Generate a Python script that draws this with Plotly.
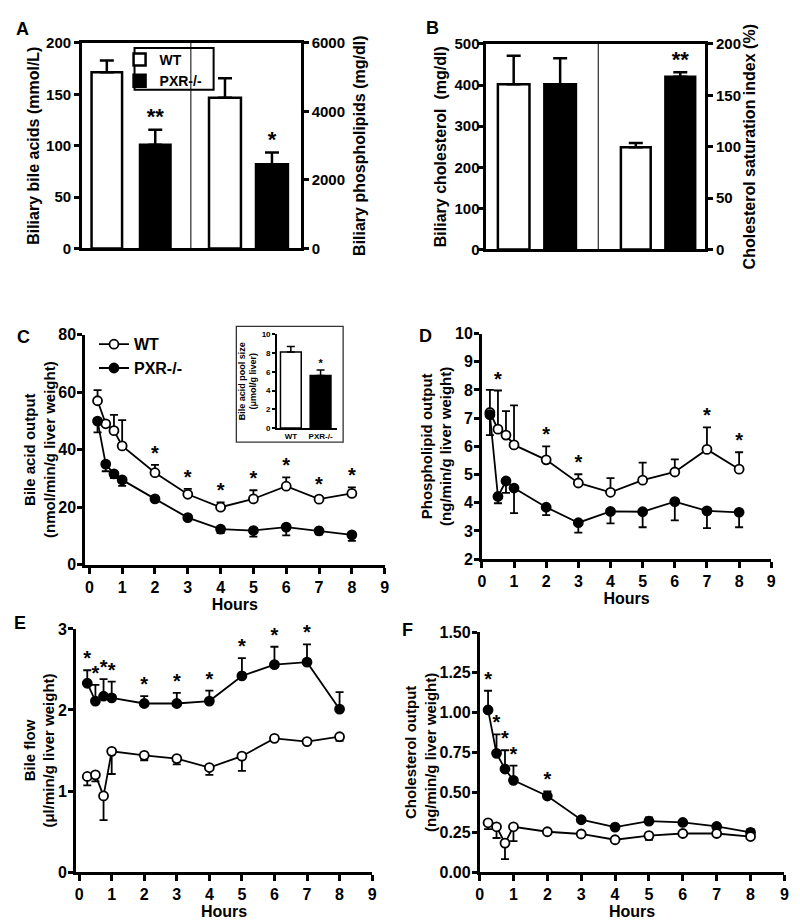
import plotly.graph_objects as go

W, H = 800, 924

# ---------------- Data ----------------
genotypes = ["WT", "PXR-/-"]

# Panel A
biliary_bile_acids = [171.5, 101.0]
biliary_bile_acids_sem = [11.5, 14.5]
sig_bile_acids = ["", "**"]
biliary_phospholipids = [4400, 2455]
biliary_phospholipids_sem = [570, 350]
sig_phospholipids = ["", "*"]

# Panel B
biliary_cholesterol = [402, 402]
biliary_cholesterol_sem = [69, 63]
sig_cholesterol = ["", ""]
chol_saturation_index = [99.5, 168]
chol_saturation_index_sem = [4.0, 4.5]
sig_csi = ["", "**"]

# Panel C inset
pool_size = [8.1, 5.6]
pool_size_sem = [0.6, 0.6]
sig_pool = ["", "*"]

hours = [0.25, 0.5, 0.75, 1, 2, 3, 4, 5, 6, 7, 8]

# Panel C - bile acid output
ba_wt = [57.0, 49.0, 46.6, 41.3, 32.0, 24.5, 20.0, 22.9, 27.3, 22.8, 24.8]
ba_wt_sem = [3.7, 1.0, 5.5, 9.0, 2.7, 1.9, 1.7, 3.0, 3.1, 1.0, 2.1]
ba_pxr = [49.9, 35.0, 31.6, 29.5, 22.9, 16.4, 12.4, 11.9, 13.1, 11.8, 10.4]
ba_pxr_sem = [3.9, 2.5, 1.5, 2.1, 1.0, 0.5, 1.4, 2.1, 2.9, 1.2, 2.1]
sig_C = ["", "", "", "", "*", "*", "*", "*", "*", "*", "*"]

# Panel D - phospholipid output
pl_wt = [7.20, 6.61, 6.40, 6.05, 5.52, 4.70, 4.37, 4.80, 5.09, 5.89, 5.19]
pl_wt_sem = [0.80, 1.37, 0.85, 1.40, 0.48, 0.31, 0.50, 0.62, 0.45, 0.78, 0.60]
pl_pxr = [7.12, 4.22, 4.77, 4.52, 3.84, 3.29, 3.69, 3.68, 4.04, 3.71, 3.66]
pl_pxr_sem = [0.72, 0.24, 0.42, 0.89, 0.28, 0.35, 0.42, 0.55, 0.67, 0.61, 0.53]
sig_D = ["", "*", "", "", "*", "*", "", "", "", "*", "*"]

# Panel E - bile flow
bf_wt = [1.18, 1.20, 0.94, 1.49, 1.44, 1.40, 1.29, 1.43, 1.65, 1.61, 1.67]
bf_wt_sem = [0.11, 0.08, 0.30, 0.28, 0.06, 0.07, 0.09, 0.18, 0.02, 0.02, 0.05]
bf_pxr = [2.33, 2.11, 2.17, 2.15, 2.08, 2.08, 2.11, 2.42, 2.56, 2.59, 2.01]
bf_pxr_sem = [0.16, 0.20, 0.21, 0.20, 0.09, 0.13, 0.13, 0.22, 0.22, 0.22, 0.21]
sig_E = ["*", "*", "*", "*", "*", "*", "*", "*", "*", "*", ""]

# Panel F - cholesterol output
ch_wt = [0.310, 0.285, 0.183, 0.285, 0.254, 0.240, 0.204, 0.230, 0.243, 0.243, 0.224]
ch_wt_sem = [0.040, 0.070, 0.100, 0.090, 0.005, 0.005, 0.010, 0.026, 0.005, 0.005, 0.005]
ch_pxr = [1.015, 0.744, 0.646, 0.575, 0.477, 0.329, 0.283, 0.320, 0.312, 0.287, 0.250]
ch_pxr_sem = [0.120, 0.118, 0.117, 0.092, 0.029, 0.005, 0.005, 0.023, 0.005, 0.005, 0.020]
sig_F = ["*", "*", "*", "*", "*", "", "", "", "", "", ""]

# ---------------- Helpers ----------------
FONT = "Liberation Sans, Arial, Helvetica, sans-serif"
# the photographed page shows the figure between y=8 and y=916
Y_OFF, Y_SPAN = 8.0, 908.0


def fnt(size, color="black"):
    return dict(family=FONT, size=size, color=color, weight="bold")


def px_x(p):
    return p / W


def px_y(p):
    return 1 - (p - Y_OFF) / Y_SPAN


def xdom(a, b):
    return [px_x(a), px_x(b)]


def ydom(bottom, top):
    return [px_y(bottom), px_y(top)]


def zeros(n):
    return [0] * n


def star_y(vals, errs, sig, up=True):
    return [(v + e if up else v) if s else None for v, e, s in zip(vals, errs, sig)]


fig = go.Figure()

# ---------------- Bar panels ----------------
WT_BAR = dict(color="white", line=dict(color="black", width=2.5))
PXR_BAR = dict(color="black", line=dict(color="black", width=2.5))
BAR_ERR = dict(color="black", thickness=2.5, width=7)


def add_bars(xa, ya, vals, errs, width, legend_on=False, small=False):
    err = dict(BAR_ERR)
    wt_m, pxr_m = WT_BAR, PXR_BAR
    if small:
        err.update(width=4, thickness=1.5)
        wt_m = dict(color="white", line=dict(color="black", width=1.5))
        pxr_m = dict(color="black", line=dict(color="black", width=1.5))
    for i, g in enumerate(genotypes):
        fig.add_trace(go.Bar(
            x=[g], y=[vals[i]], width=width,
            marker=wt_m if i == 0 else pxr_m,
            error_y=dict(type="data", symmetric=False, array=[errs[i]], arrayminus=[0], **err),
            name=g, legend="legend", showlegend=legend_on,
            xaxis=xa, yaxis=ya, hoverinfo="skip",
        ))


add_bars("x", "y", biliary_bile_acids, biliary_bile_acids_sem, 0.63, legend_on=True)
add_bars("x2", "y2", biliary_phospholipids, biliary_phospholipids_sem, 0.68)
add_bars("x3", "y3", biliary_cholesterol, biliary_cholesterol_sem, 0.68)
add_bars("x4", "y4", chol_saturation_index, chol_saturation_index_sem, 0.67)
add_bars("x6", "y6", pool_size, pool_size_sem, 0.7, small=True)

for xa, ya, vals, errs, sig, fs in [
    ("x", "y", biliary_bile_acids, biliary_bile_acids_sem, sig_bile_acids, 22),
    ("x2", "y2", biliary_phospholipids, biliary_phospholipids_sem, sig_phospholipids, 22),
    ("x3", "y3", biliary_cholesterol, biliary_cholesterol_sem, sig_cholesterol, 22),
    ("x4", "y4", chol_saturation_index, chol_saturation_index_sem, sig_csi, 22),
    ("x6", "y6", pool_size, pool_size_sem, sig_pool, 11),
]:
    fig.add_trace(go.Scatter(
        x=genotypes, y=star_y(vals, errs, sig), text=sig, mode="text",
        textposition="top center", textfont=fnt(fs), showlegend=False,
        xaxis=xa, yaxis=ya, cliponaxis=False, hoverinfo="skip",
    ))

# ---------------- Time-course panels ----------------
WT_MARK = dict(symbol="circle", size=9, color="white", line=dict(color="black", width=1.8))
PXR_MARK = dict(symbol="circle", size=9, color="black", line=dict(color="black", width=1.8))
LINE = dict(color="black", width=1.8)
ERR = dict(color="black", thickness=1.8, width=4)


def add_series(xa, ya, vals, errs, marker, up, name, legend_on=False):
    n = len(vals)
    fig.add_trace(go.Scatter(
        x=hours, y=vals, mode="lines+markers", marker=marker, line=LINE,
        error_y=dict(type="data", symmetric=False,
                     array=errs if up else zeros(n),
                     arrayminus=zeros(n) if up else errs, **ERR),
        name=name, legend="legend2", showlegend=legend_on,
        xaxis=xa, yaxis=ya, cliponaxis=False, hoverinfo="skip",
    ))


def add_stars(xa, ya, vals, errs, sig):
    fig.add_trace(go.Scatter(
        x=hours, y=star_y(vals, errs, sig), text=sig, mode="text",
        textposition="top center", textfont=fnt(20), showlegend=False,
        xaxis=xa, yaxis=ya, cliponaxis=False, hoverinfo="skip",
    ))


# C
add_series("x5", "y5", ba_wt, ba_wt_sem, WT_MARK, True, "WT", legend_on=True)
add_series("x5", "y5", ba_pxr, ba_pxr_sem, PXR_MARK, False, "PXR-/-", legend_on=True)
add_stars("x5", "y5", ba_wt, ba_wt_sem, sig_C)
# D
add_series("x7", "y7", pl_wt, pl_wt_sem, WT_MARK, True, "WT")
add_series("x7", "y7", pl_pxr, pl_pxr_sem, PXR_MARK, False, "PXR-/-")
add_stars("x7", "y7", pl_wt, pl_wt_sem, sig_D)
# E
add_series("x8", "y8", bf_pxr, bf_pxr_sem, PXR_MARK, True, "PXR-/-")
add_series("x8", "y8", bf_wt, bf_wt_sem, WT_MARK, False, "WT")
add_stars("x8", "y8", bf_pxr, bf_pxr_sem, sig_E)
# F
add_series("x9", "y9", ch_pxr, ch_pxr_sem, PXR_MARK, True, "PXR-/-")
add_series("x9", "y9", ch_wt, ch_wt_sem, WT_MARK, False, "WT")
add_stars("x9", "y9", ch_pxr, ch_pxr_sem, sig_F)


# ---------------- Axes ----------------
def bar_x(domain, anchor, rng):
    return dict(domain=domain, anchor=anchor, type="category",
                categoryorder="array", categoryarray=genotypes, range=rng,
                showline=True, mirror=True, linewidth=3, linecolor="black",
                ticks="", showticklabels=False, showgrid=False, zeroline=False)


def bar_y(domain, anchor, rng, dtick, title, side="left", standoff=4, lblshift=0):
    return dict(domain=domain, anchor=anchor, side=side, range=rng, dtick=dtick,
                showline=True, linewidth=3, linecolor="black",
                ticks="outside", ticklen=5, tickwidth=3, tickcolor="black",
                ticklabelstandoff=lblshift,
                tickfont=fnt(15), showgrid=False, zeroline=False,
                title=dict(text=title, font=fnt(16), standoff=standoff))


def line_x(domain, anchor, rng):
    return dict(domain=domain, anchor=anchor, range=rng, tick0=0, dtick=1,
                showline=True, linewidth=2.5, linecolor="black",
                ticks="outside", ticklen=6, tickwidth=2.5, tickcolor="black",
                tickfont=fnt(16), showgrid=False, zeroline=False,
                title=dict(text="Hours", font=fnt(16), standoff=2))


def line_y(domain, anchor, rng, dtick, title, fmt=None, standoff=0):
    d = dict(domain=domain, anchor=anchor, range=rng, dtick=dtick, tick0=0,
             showline=True, linewidth=2.5, linecolor="black",
             ticks="outside", ticklen=5, tickwidth=2.5, tickcolor="black",
             ticklabelstandoff=-2,
             tickfont=fnt(16), showgrid=False, zeroline=False,
             title=dict(text=title, font=fnt(15), standoff=standoff))
    if fmt:
        d["tickformat"] = fmt
    return d


yA = ydom(248, 42)
yB = ydom(249, 43)

layout = dict(
    width=W, height=H, autosize=False,
    margin=dict(l=0, r=0, t=0, b=0),
    plot_bgcolor="white", paper_bgcolor="white",
    font=fnt(15), barmode="overlay",
    xaxis=bar_x(xdom(79, 189), "y", [-0.51, 1.735]),
    xaxis2=bar_x(xdom(189, 300), "y2", [-0.726, 1.61]),
    yaxis=bar_y(yA, "x", [0, 200], 50, "Biliary bile acids (mmol/L)", standoff=3),
    yaxis2=bar_y(yA, "x2", [0, 6000], 2000, "Biliary phospholipids (mg/dl)", side="right", standoff=10),
    xaxis3=bar_x(xdom(487, 601), "y3", [-0.606, 1.82]),
    xaxis4=bar_x(xdom(601, 709), "y4", [-0.844, 1.556]),
    yaxis3=bar_y(yB, "x3", [0, 500], 100, "Biliary cholesterol  (mg/dl)", standoff=4, lblshift=-5),
    yaxis4=bar_y(yB, "x4", [0, 200], 50, "Cholesterol saturation index (%)", side="right", standoff=2),
    xaxis5=line_x(xdom(82, 385), "y5", [-0.13, 9]),
    yaxis5=line_y(ydom(565, 334.3), "x5", [0, 80], 20, "Bile acid output<br>(nmol/min/g liver weight)"),
    xaxis6=dict(domain=xdom(276, 337), anchor="y6", type="category",
                categoryorder="array", categoryarray=genotypes, range=[-0.47, 1.56],
                showline=True, linewidth=1.5, linecolor="black", ticks="",
                tickfont=fnt(8), showgrid=False, zeroline=False),
    yaxis6=dict(domain=ydom(428, 334), anchor="x6", range=[0, 10], dtick=2,
                showline=True, linewidth=1.5, linecolor="black",
                ticks="outside", ticklen=3, tickwidth=1.5, tickcolor="black",
                tickfont=fnt(8), showgrid=False, zeroline=False,
                title=dict(text="Bile acid pool size<br>(μmol/g liver)", font=fnt(9), standoff=3)),
    xaxis7=line_x(xdom(483.3, 776), "y7", [0, 9]),
    yaxis7=line_y(ydom(559.3, 333.3), "x7", [2, 10], 1, "Phospholipid output<br>(ng/min/g liver weight)"),
    xaxis8=line_x(xdom(72.7, 372.3), "y8", [-0.1, 9]),
    yaxis8=line_y(ydom(873, 629.3), "x8", [0, 3], 1, "Bile flow<br>(μl/min/g liver weight)"),
    xaxis9=line_x(xdom(481, 789.3), "y9", [0, 9]),
    yaxis9=line_y(ydom(873.3, 632.7), "x9", [0, 1.5], 0.25, "Cholesterol output<br>(ng/min/g liver weight)", fmt=".2f"),
    legend=dict(x=px_x(127), y=px_y(43), xanchor="left", yanchor="top",
                borderwidth=0, bgcolor="rgba(255,255,255,0)",
                font=fnt(14), tracegroupgap=0, itemwidth=30, indentation=-10),
    legend2=dict(x=px_x(91), y=px_y(327), xanchor="left", yanchor="top",
                 bgcolor="rgba(0,0,0,0)", borderwidth=0,
                 font=fnt(16), tracegroupgap=0, itemwidth=30),
    shapes=[
        dict(type="line", xref="paper", yref="paper", x0=px_x(189), x1=px_x(189),
             y0=yA[0], y1=yA[1], line=dict(color="black", width=1)),
        dict(type="line", xref="paper", yref="paper", x0=px_x(601), x1=px_x(601),
             y0=yB[0], y1=yB[1], line=dict(color="black", width=1)),
        # legend frame of panel A
        dict(type="rect", xref="paper", yref="paper", x0=px_x(132), x1=px_x(212),
             y0=px_y(89), y1=px_y(47), line=dict(color="black", width=2)),
        # inset frame
        dict(type="rect", xref="paper", yref="paper", x0=px_x(235), x1=px_x(343),
             y0=px_y(442), y1=px_y(326), line=dict(color="#333333", width=1.3)),
    ],
    annotations=[
        dict(text=t, x=px_x(x), y=px_y(y), xref="paper", yref="paper",
             xanchor="left", yanchor="middle", showarrow=False, font=fnt(18))
        for t, x, y in [("A", 10, 28), ("B", 425, 27), ("C", 11, 337),
                        ("D", 418, 336), ("E", 8, 623), ("F", 401, 630)]
    ],
)

fig.update_layout(**layout)

fig.write_html("out.html", config={"displayModeBar": False},
               post_script="document.body.style.margin='0px';")
